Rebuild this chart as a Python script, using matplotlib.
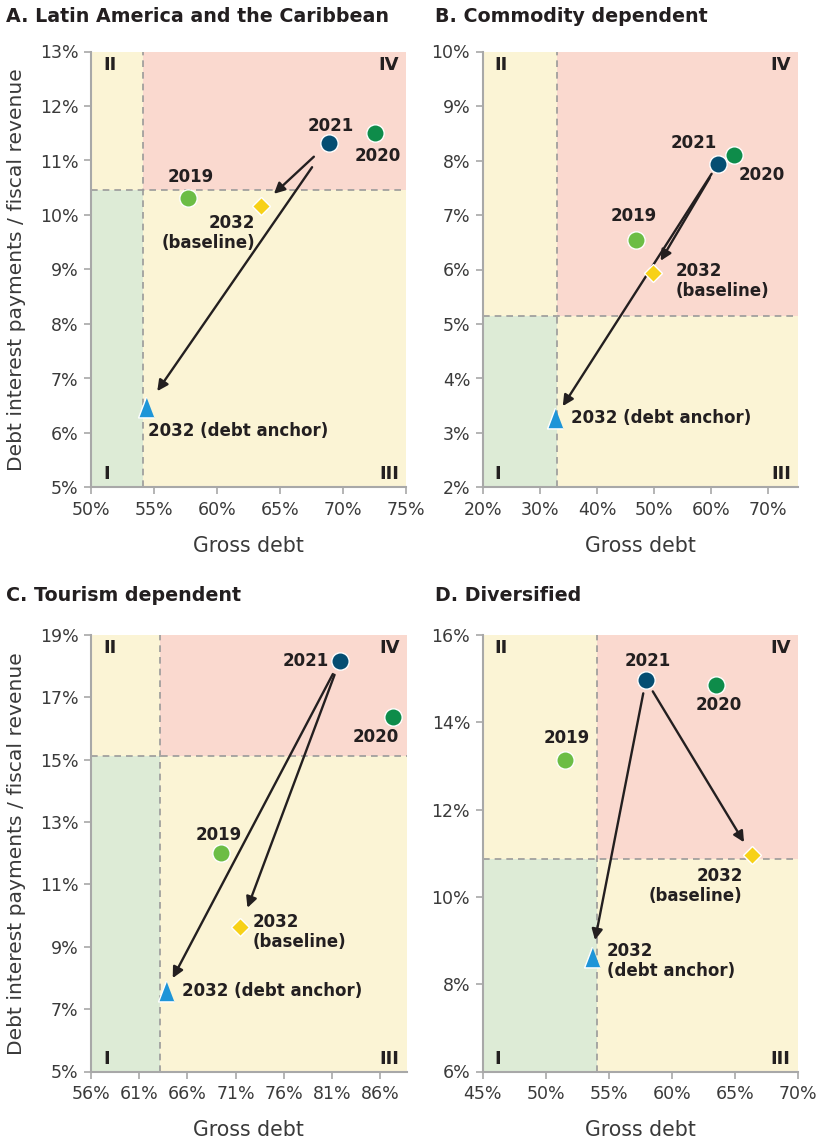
import matplotlib
matplotlib.use("Agg")
import matplotlib.pyplot as plt
from matplotlib.ticker import FuncFormatter

plt.rcParams['font.family'] = ['DejaVu Sans']

# point order: 2019, 2020, 2021, 2032 baseline, 2032 debt anchor
a_gross = [57.7, 72.5, 68.9, 63.5, 54.4]
a_ratio = [10.31, 11.51, 11.33, 10.17, 6.48]
a_thr = [54.13, 10.45]

b_gross = [46.9, 64.0, 61.2, 49.85, 32.65]
b_ratio = [6.55, 8.11, 7.94, 5.93, 3.27]
b_thr = [33.0, 5.14]

c_gross = [69.45, 87.3, 81.8, 71.5, 63.75]
c_ratio = [12.0, 16.36, 18.17, 9.65, 7.57]
c_thr = [63.19, 15.13]

d_gross = [51.5, 63.5, 57.95, 66.35, 53.65]
d_ratio = [13.13, 14.86, 14.97, 10.96, 8.62]
d_thr = [54.05, 10.87]

labels = ["2019", "2020", "2021", "2032\n(baseline)", "2032 (debt anchor)"]
labels_d = ["2019", "2020", "2021", "2032\n(baseline)", "2032\n(debt anchor)"]

titles = ["A. Latin America and the Caribbean", "B. Commodity dependent",
          "C. Tourism dependent", "D. Diversified"]

colors = ["#6cbd45", "#0e8c4a", "#054e72", "#f7d117", "#1e95d8"]
bg_green, bg_yellow, bg_red = "#ddebd6", "#fbf4d5", "#fad9cf"
txt = "#231f20"

PX = 0.72  # px -> pt at 100 dpi

panels = [
    dict(x=a_gross, y=a_ratio, thr=a_thr, lab=labels, title=titles[0],
         xlim=(50, 75), ylim=(5, 13), xt=(50, 76, 5), yt=(5, 14, 1),
         pos=[91, 51.5, 315, 436],
         off=[(3, 21.5, 'center'), (3, -23, 'center'), (2, 17, 'center'),
              (-6, -27, 'right'), (2, -24, 'left')],
         shr=[(15, 12.6), (21.6, 13.7)]),
    dict(x=b_gross, y=b_ratio, thr=b_thr, lab=labels, title=titles[1],
         xlim=(20, 75.25), ylim=(2, 10), xt=(20, 71, 10), yt=(2, 11, 1),
         pos=[482.7, 51.5, 315.6, 436],
         off=[(-3, 23.5, 'center'), (5, -20, 'left'), (-1, 20.5, 'right'),
              (22, -8, 'left'), (16, 0, 'left')],
         shr=[(11.8, 10.5), (8.6, 10.4)]),
    dict(x=c_gross, y=c_ratio, thr=c_thr, lab=labels, title=titles[2],
         xlim=(56, 88.74), ylim=(5, 19), xt=(56, 87, 5), yt=(5, 20, 2),
         pos=[91, 635, 315.7, 436.5],
         off=[(-2, 18.5, 'center'), (-17, -19.5, 'center'), (-11, 0, 'right'),
              (12, -5.5, 'left'), (16, 0, 'left')],
         shr=[(10.7, 14.4), (10.7, 10.8)]),
    dict(x=d_gross, y=d_ratio, thr=d_thr, lab=labels_d, title=titles[3],
         xlim=(45, 70), ylim=(6, 16), xt=(45, 71, 5), yt=(6, 17, 2),
         pos=[482.7, 635, 315, 436.5],
         off=[(2, 22.5, 'center'), (3, -20, 'center'), (2, 18.5, 'center'),
              (-9, -31, 'right'), (15, -4, 'left')],
         shr=[(9.6, 10.7), (9.8, 12.5)]),
]

W, H = 821, 1145
fig = plt.figure(figsize=(W / 100, H / 100), dpi=100)

tri = [(0, 1.05), (-0.8, -1.05), (0.8, -1.05)]
markers = ['o', 'o', 'o', 'D', tri]
msizes = [12.5, 12.5, 12.5, 9.0, 15]

for i, p in enumerate(panels):
    l, t, w, h = p['pos']
    ax = fig.add_axes([l / W, 1 - (t + h) / H, w / W, h / H])
    x0, x1 = p['xlim']
    y0, y1 = p['ylim']
    tx, ty = p['thr']

    # quadrant backgrounds
    ax.fill_between([x0, tx], y0, ty, color=bg_green, lw=0, zorder=0)
    ax.fill_between([x0, tx], ty, y1, color=bg_yellow, lw=0, zorder=0)
    ax.fill_between([tx, x1], y0, ty, color=bg_yellow, lw=0, zorder=0)
    ax.fill_between([tx, x1], ty, y1, color=bg_red, lw=0, zorder=0)
    ax.axvline(tx, color="#9a9a9a", lw=1.2, ls=(0, (4, 3)), zorder=1)
    ax.axhline(ty, color="#9a9a9a", lw=1.2, ls=(0, (4, 3)), zorder=1)

    # arrows from 2021 to the two 2032 scenarios
    for k, tgt in enumerate([3, 4]):
        sa, sb = p['shr'][k]
        ax.annotate("", xy=(p['x'][tgt], p['y'][tgt]),
                    xytext=(p['x'][2], p['y'][2]),
                    arrowprops=dict(arrowstyle='-|>', color=txt, lw=1.7,
                                    mutation_scale=16, shrinkA=sa, shrinkB=sb),
                    zorder=2)

    for j in range(5):
        ax.plot(p['x'][j], p['y'][j], marker=markers[j], ms=msizes[j],
                color=colors[j], mec='white', mew=1.0, ls='none', zorder=3)
        dx, dy, ha = p['off'][j]
        ax.annotate(p['lab'][j], (p['x'][j], p['y'][j]),
                    xytext=(dx * PX, dy * PX), textcoords='offset points',
                    ha=ha, va='center', multialignment=ha,
                    fontsize=12, fontweight='bold', color=txt, zorder=4,
                    linespacing=1.15)

    # quadrant numerals
    qkw = dict(fontsize=13, fontweight='bold', color=txt, zorder=4)
    ax.annotate("II", (0, 1), xycoords='axes fraction', xytext=(12 * PX, -13 * PX),
                textcoords='offset points', ha='left', va='center', **qkw)
    ax.annotate("IV", (1, 1), xycoords='axes fraction', xytext=(-7 * PX, -13 * PX),
                textcoords='offset points', ha='right', va='center', **qkw)
    ax.annotate("I", (0, 0), xycoords='axes fraction', xytext=(12 * PX, 13 * PX),
                textcoords='offset points', ha='left', va='center', **qkw)
    ax.annotate("III", (1, 0), xycoords='axes fraction', xytext=(-7 * PX, 13 * PX),
                textcoords='offset points', ha='right', va='center', **qkw)

    ax.set_xlim(x0, x1)
    ax.set_ylim(y0, y1)
    ax.set_xticks(range(*p['xt']))
    ax.set_yticks(range(*p['yt']))
    ax.xaxis.set_major_formatter(FuncFormatter(lambda v, _: f"{v:.0f}%"))
    ax.yaxis.set_major_formatter(FuncFormatter(lambda v, _: f"{v:.0f}%"))
    for s in ['top', 'right']:
        ax.spines[s].set_visible(False)
    for s in ['left', 'bottom']:
        ax.spines[s].set_color("#a8a8a8")
        ax.spines[s].set_linewidth(1.5)
    ax.tick_params(length=5, width=1.2, color="#a8a8a8", labelsize=12.5,
                   labelcolor="#3a3a3a", pad=4)
    ax.tick_params(axis='x', pad=5)

    ax.set_xlabel("Gross debt", fontsize=14.8, color="#3a3a3a", labelpad=12)

    # panel title
    fig.text((6 if i % 2 == 0 else 435) / W, 1 - (16 if i < 2 else 596) / H,
             p['title'], fontsize=13.7, fontweight='bold', color=txt,
             ha='left', va='center')
    if i % 2 == 0:
        fig.text(17 / W, 1 - (t + h / 2) / H, "Debt interest payments / fiscal revenue",
                 rotation=90, fontsize=14.6, color="#3a3a3a", ha='center', va='center')

fig.savefig("out.png", dpi=100)
